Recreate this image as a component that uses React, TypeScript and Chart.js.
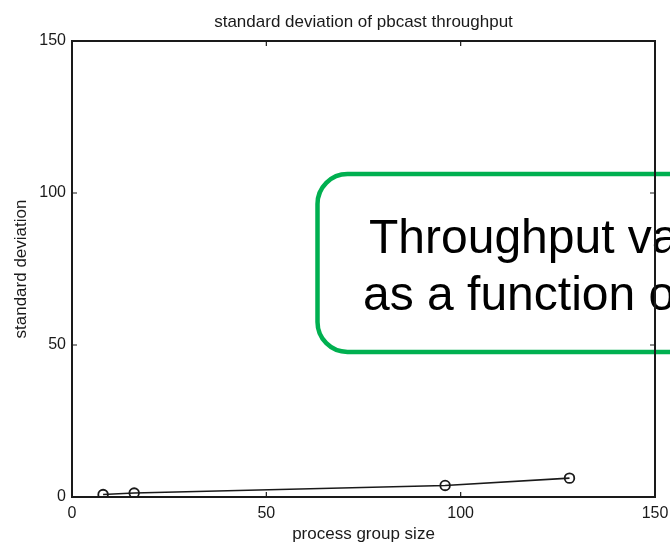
import React, { useEffect, useRef } from "react";
import { Chart, registerables } from "chart.js";

Chart.register(...registerables);

// Measured standard deviation of pbcast throughput per process group size
const groupSizes = [8, 16, 96, 128];
const stdDevs = [0.8, 1.3, 3.8, 6.2];

const axisTicks = [0, 50, 100, 150];
const chartTitle = "standard deviation of pbcast throughput";
const xTitle = "process group size";
const yTitle = "standard deviation";
const calloutLines = ["Throughput variation", "as a function of group size"];

const FONT = "'Liberation Sans', Arial, Helvetica, sans-serif";
const INK = "#1a1a1a";

// Rounded green callout sitting underneath the axes frame
const calloutPlugin = {
  id: "callout",
  beforeDraw(chart: any, _args: any, opts: any) {
    const ctx = chart.ctx as CanvasRenderingContext2D;
    const { x, y, w, h, r } = opts.box;
    ctx.save();
    ctx.beginPath();
    ctx.roundRect(x, y, w, h, r);
    ctx.fillStyle = "#ffffff";
    ctx.fill();
    ctx.lineWidth = 4.5;
    ctx.strokeStyle = "#00b050";
    ctx.stroke();
    ctx.fillStyle = "#000000";
    ctx.font = `48px ${FONT}`;
    ctx.textBaseline = "alphabetic";
    ctx.textAlign = "left";
    opts.lines.forEach((line: string, i: number) => {
      ctx.fillText(line, opts.textX[i], opts.textY[i]);
    });
    ctx.restore();
  },
};

// Plot title centred over the axes box
const plotTitlePlugin = {
  id: "plotTitle",
  afterDraw(chart: any, _args: any, opts: any) {
    const ctx = chart.ctx as CanvasRenderingContext2D;
    const { left, right, top } = chart.chartArea;
    ctx.save();
    ctx.fillStyle = INK;
    ctx.font = `17px ${FONT}`;
    ctx.textAlign = "center";
    ctx.textBaseline = "middle";
    ctx.fillText(opts.text, (left + right) / 2, top - opts.gap);
    ctx.restore();
  },
};

// MATLAB-style boxed axes with inward tick marks
const framePlugin = {
  id: "frame",
  beforeDatasetsDraw(chart: any) {
    const ctx = chart.ctx as CanvasRenderingContext2D;
    const { left, right, top, bottom } = chart.chartArea;
    const xs = chart.scales.x;
    const ys = chart.scales.y;
    const tl = 5;
    ctx.save();
    ctx.strokeStyle = INK;
    ctx.lineWidth = 2;
    ctx.strokeRect(left, top, right - left, bottom - top);
    ctx.lineWidth = 1.2;
    ctx.beginPath();
    axisTicks.forEach((v) => {
      const px = xs.getPixelForValue(v);
      if (px > left + 1 && px < right - 1) {
        ctx.moveTo(px, bottom);
        ctx.lineTo(px, bottom - tl);
        ctx.moveTo(px, top);
        ctx.lineTo(px, top + tl);
      }
      const py = ys.getPixelForValue(v);
      if (py > top + 1 && py < bottom - 1) {
        ctx.moveTo(left, py);
        ctx.lineTo(left + tl, py);
        ctx.moveTo(right, py);
        ctx.lineTo(right - tl, py);
      }
    });
    ctx.stroke();
    ctx.restore();
  },
};

export default function App() {
  const canvasRef = useRef<HTMLCanvasElement | null>(null);

  useEffect(() => {
    document.body.style.margin = "0";
    const canvas = canvasRef.current;
    if (!canvas) return;

    const chart = new Chart(canvas, {
      type: "scatter",
      data: {
        datasets: [
          {
            data: groupSizes.map((g, i) => ({ x: g, y: stdDevs[i] })),
            showLine: true,
            borderColor: INK,
            borderWidth: 1.6,
            pointStyle: "circle",
            pointRadius: 4.8,
            pointBorderWidth: 1.8,
            pointBorderColor: INK,
            pointBackgroundColor: "rgba(0,0,0,0)",
          },
        ],
      },
      options: {
        responsive: false,
        animation: false,
        layout: { padding: { left: 0, right: 15, top: 41, bottom: 0 } },
        plugins: {
          legend: { display: false },
          tooltip: { enabled: false },
          title: { display: false },
          plotTitle: { text: chartTitle, gap: 19 },
          callout: {
            box: { x: 317.5, y: 174, w: 500, h: 178, r: 30 },
            lines: calloutLines,
            textX: [369, 363],
            textY: [253, 310],
          },
        } as any,
        scales: {
          x: {
            type: "linear",
            min: 0,
            max: 150,
            afterBuildTicks: (s: any) => {
              s.ticks = axisTicks.map((v) => ({ value: v }));
            },
            afterFit: (s: any) => {
              s.height = 48;
              s.paddingLeft = 0;
              s.paddingRight = 0;
            },
            grid: { display: false, drawTicks: false },
            border: { display: false },
            ticks: {
              color: INK,
              padding: 7,
              maxRotation: 0,
              font: { family: FONT, size: 16 },
            },
            title: {
              display: true,
              text: xTitle,
              color: INK,
              font: { family: FONT, size: 17 },
              padding: { top: 0, bottom: 0 },
            },
          },
          y: {
            type: "linear",
            min: 0,
            max: 150,
            afterBuildTicks: (s: any) => {
              s.ticks = axisTicks.map((v) => ({ value: v }));
            },
            afterFit: (s: any) => {
              s.width = 72;
              s.paddingTop = 0;
              s.paddingBottom = 0;
            },
            grid: { display: false, drawTicks: false },
            border: { display: false },
            ticks: {
              color: INK,
              padding: 6,
              font: { family: FONT, size: 16 },
            },
            title: {
              display: true,
              text: yTitle,
              color: INK,
              font: { family: FONT, size: 17 },
              padding: { top: 11, bottom: 0 },
            },
          },
        },
      },
      plugins: [calloutPlugin, framePlugin, plotTitlePlugin],
    });

    return () => chart.destroy();
  }, []);

  return (
    <div style={{ width: 670, height: 545, background: "#ffffff" }}>
      <canvas ref={canvasRef} width={670} height={545} style={{ display: "block" }} />
    </div>
  );
}
